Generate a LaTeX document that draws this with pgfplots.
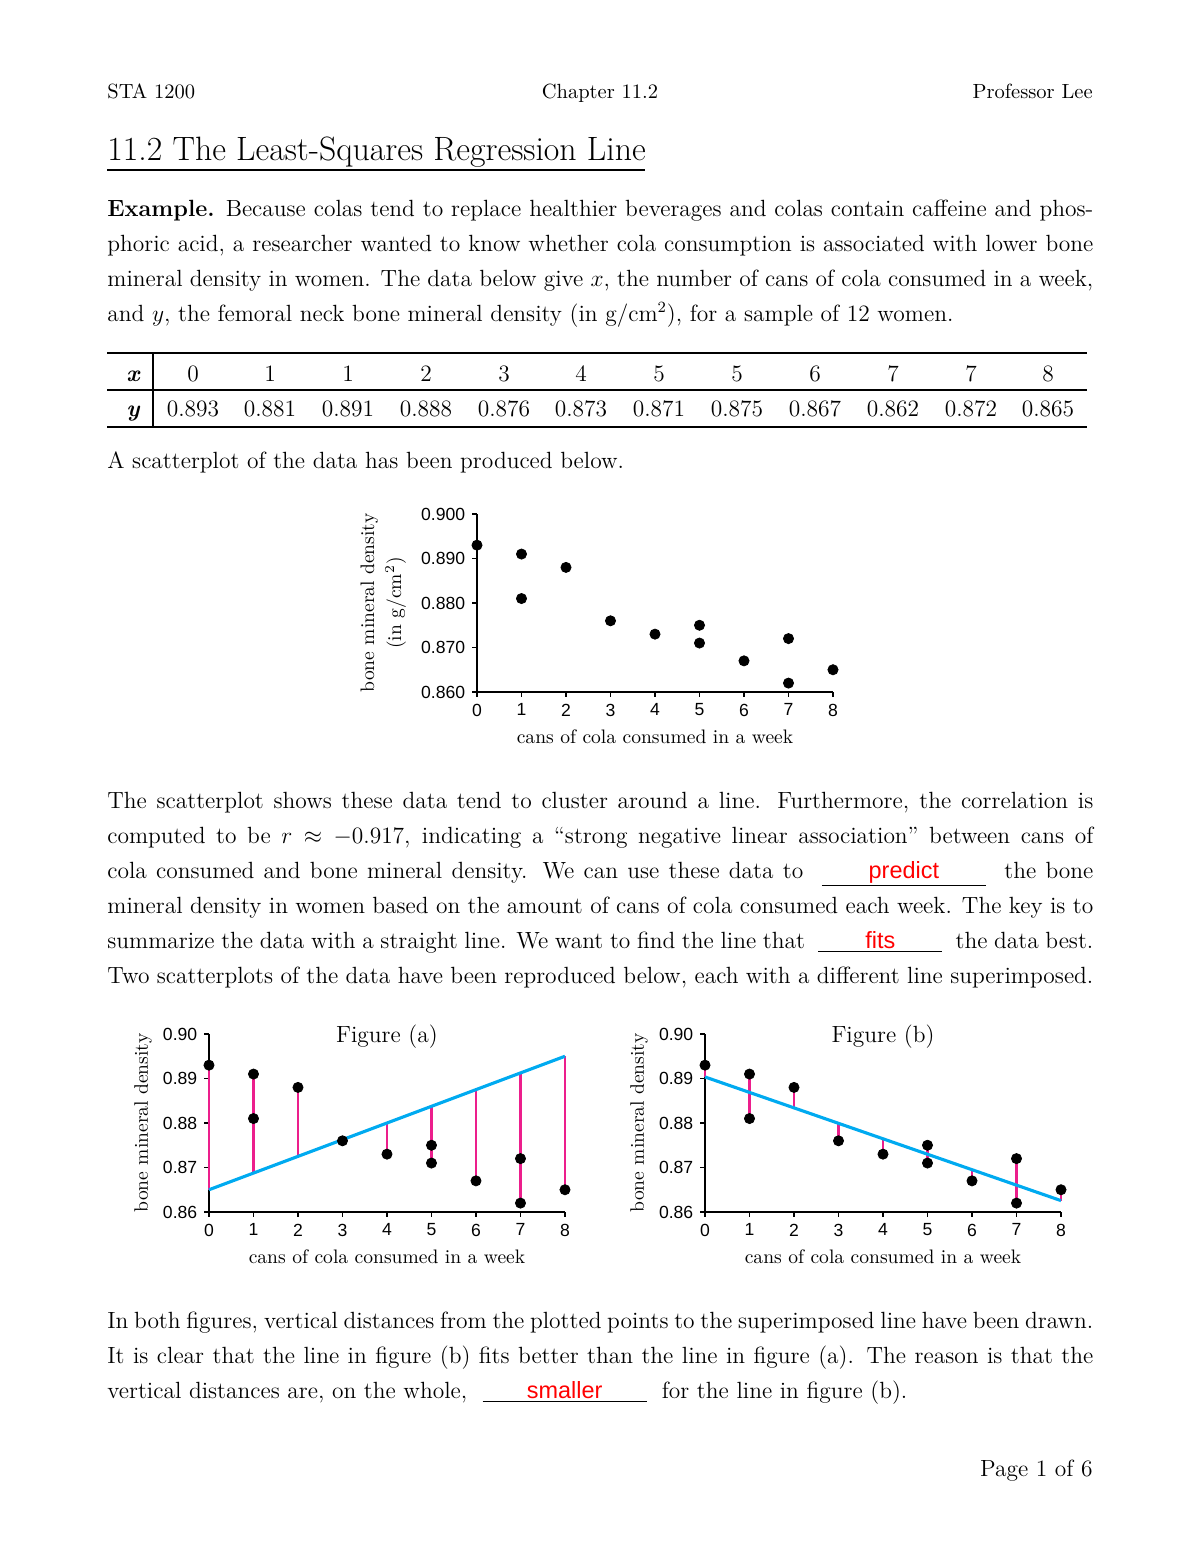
\documentclass[border=0pt]{standalone}
\usepackage{pgfplots}
\usepackage{pgfplotstable}
\pgfplotsset{compat=1.18}
\usepackage{fontspec}
\newfontfamily\sansfont{Liberation Sans}
\definecolor{resid}{RGB}{236,30,140}
\definecolor{fitline}{RGB}{0,170,240}

\pgfplotstableread{
x y
0 0.893
1 0.881
1 0.891
2 0.888
3 0.876
4 0.873
5 0.871
5 0.875
6 0.867
7 0.862
7 0.872
8 0.865
}\cola

\pgfplotsset{colaaxis/.style={
  scale only axis, width=182.23pt, height=91.11pt,
  anchor=south west,
  axis lines=left, axis line style={-, line width=1.3pt},
  xmin=0, xmax=8, ymin=0.86, ymax=0.90,
  xtick={0,...,8}, ytick={0.86,0.87,0.88,0.89,0.90},
  tick align=outside, major tick length=2.5pt,
  tick style={line width=0.9pt, black},
  tick label style={font=\sansfont\fontsize{9}{9}\selectfont},
  /pgf/number format/assume math mode=true,
  clip=false,
  xlabel={cans of cola consumed in a week},
  xlabel style={font=\fontsize{10}{12}\selectfont, at={(axis description cs:0.5,-0.253)}, anchor=center},
  ylabel style={font=\fontsize{10}{13.8}\selectfont, align=center, anchor=center},
}}

\newcommand\blank[2]{\underline{\makebox[#1]{\textcolor{red}{\sansfont #2}}}}

\begin{document}
\begin{tikzpicture}
\path[use as bounding box] (0,0) rectangle (614.25pt,-794.96pt);

\begin{scope}[x=0.51188pt, y=-0.51188pt]
% header
\node[anchor=base west, inner sep=0, font=\fontsize{10.5}{12}\selectfont] at (107,98) {STA 1200};
\node[anchor=base, inner sep=0, font=\fontsize{10.5}{12}\selectfont] at (600,98) {Chapter 11.2};
\node[anchor=base east, inner sep=0, font=\fontsize{10.5}{12}\selectfont] at (1093,98) {Professor Lee};
% title
\node[anchor=base west, inner sep=0, font=\fontsize{17.28}{20}\selectfont] at (107,160) {11.2 The Least-Squares Regression Line};
\draw[line width=0.8pt] (107,170) -- (645,170);

\begin{scope}[every node/.style={anchor=base west, inner sep=0, font=\fontsize{12}{17.9}\selectfont}]
\node at (107,216) {\makebox[504.7pt][s]{\textbf{Example.} Because colas tend to replace healthier beverages and colas contain caffeine and phos-}};
\node at (107,251) {\makebox[504.7pt][s]{phoric acid, a researcher wanted to know whether cola consumption is associated with lower bone}};
\node at (107,286) {\makebox[504.7pt][s]{mineral density in women. The data below give $x$, the number of cans of cola consumed in a week,}};
\node at (107,321) {and $y$, the femoral neck bone mineral density (in g/cm$^2$), for a sample of 12 women.};

\node at (107,468) {A scatterplot of the data has been produced below.};

\node at (107,808) {\makebox[504.7pt][s]{The scatterplot shows these data tend to cluster around a line. Furthermore, the correlation is}};
\node at (107,843) {\makebox[504.7pt][s]{computed to be $r \approx -0.917$, indicating a ``strong negative linear association'' between cans of}};
\node at (107,878) {\makebox[504.7pt][s]{cola consumed and bone mineral density. We can use these data to \ \blank{84pt}{predict} \ the bone}};
\node at (107,913) {\makebox[504.7pt][s]{mineral density in women based on the amount of cans of cola consumed each week. The key is to}};
\node at (107,948) {\makebox[504.7pt][s]{summarize the data with a straight line. We want to find the line that \ \blank{63.5pt}{fits} \ the data best.}};
\node at (107,983) {\makebox[504.7pt][s]{Two scatterplots of the data have been reproduced below, each with a different line superimposed.}};

\node at (107,1328) {\makebox[504.7pt][s]{In both figures, vertical distances from the plotted points to the superimposed line have been drawn.}};
\node at (107,1363) {\makebox[504.7pt][s]{It is clear that the line in figure (b) fits better than the line in figure (a). The reason is that the}};
\node at (107,1398) {vertical distances are, on the whole, \ \blank{84pt}{smaller} \ for the line in figure (b).};

\node[anchor=base east] at (1093,1476) {Page 1 of 6};
\end{scope}

% table
\draw[line width=0.9pt] (107,353) -- (1087,353);
\draw[line width=0.6pt] (107,390) -- (1087,390);
\draw[line width=0.9pt] (107,427) -- (1087,427);
\draw[line width=0.6pt] (153,353) -- (153,427);
\begin{scope}[every node/.style={anchor=base, inner sep=0, font=\fontsize{12}{14}\selectfont}]
\node at (133,381) {\bfseries\itshape x};
\node at (133,416) {\bfseries\itshape y};
\foreach \cx/\vx/\vy in {193/0/0.893, 270/1/0.881, 348/1/0.891, 426/2/0.888, 504/3/0.876, 581/4/0.873, 659/5/0.871, 737/5/0.875, 815/6/0.867, 893/7/0.862, 971/7/0.872, 1048/8/0.865}{
  \node at (\cx,381) {\vx};
  \node at (\cx,416) {\vy};
}
\end{scope}
\end{scope}

% scatterplot 1
\begin{axis}[colaaxis, at={(244.17pt,-354.22pt)},
  yticklabel style={/pgf/number format/.cd, fixed, fixed zerofill, precision=3},
  ylabel={bone mineral density\\(in g/cm$^2$)},
  ylabel style={at={(axis description cs:-0.263,0.5)}}]
\addplot[only marks, mark=*, mark size=2.6pt, black] table[x=x,y=y] {\cola};
\end{axis}

% figure (a)
\begin{axis}[colaaxis, at={(106.98pt,-620.40pt)},
  yticklabel style={/pgf/number format/.cd, fixed, fixed zerofill, precision=2},
  ylabel={bone mineral density},
  ylabel style={at={(axis description cs:-0.185,0.5)}},
  title={Figure (a)}, title style={at={(axis description cs:0.5,0.921)}, anchor=center, font=\fontsize{12}{14}\selectfont}]
\addplot[resid, line width=1.25pt, unbounded coords=jump] coordinates {
(0,0.893)(0,0.865)(0,nan)
(1,0.891)(1,0.86875)(1,nan)
(2,0.888)(2,0.8725)(2,nan)
(3,0.876)(3,0.87625)(3,nan)
(4,0.873)(4,0.880)(4,nan)
(5,0.871)(5,0.88375)(5,nan)
(6,0.867)(6,0.8875)(6,nan)
(7,0.862)(7,0.89125)(7,nan)
(8,0.865)(8,0.895)};
\addplot[fitline, line width=1.6pt] coordinates {(0,0.865)(8,0.895)};
\addplot[only marks, mark=*, mark size=2.6pt, black] table[x=x,y=y] {\cola};
\end{axis}

% figure (b)
\begin{axis}[colaaxis, at={(360.88pt,-620.40pt)},
  yticklabel style={/pgf/number format/.cd, fixed, fixed zerofill, precision=2},
  ylabel={bone mineral density},
  ylabel style={at={(axis description cs:-0.185,0.5)}},
  title={Figure (b)}, title style={at={(axis description cs:0.5,0.921)}, anchor=center, font=\fontsize{12}{14}\selectfont}]
\addplot[resid, line width=1.25pt, unbounded coords=jump] coordinates {
(0,0.893)(0,0.89035)(0,nan)
(1,0.891)(1,0.881)(1,nan)
(2,0.888)(2,0.88340)(2,nan)
(3,0.876)(3,0.87993)(3,nan)
(4,0.873)(4,0.87645)(4,nan)
(5,0.875)(5,0.871)(5,nan)
(6,0.867)(6,0.86951)(6,nan)
(7,0.872)(7,0.862)(7,nan)
(8,0.865)(8,0.86256)};
\addplot[fitline, line width=1.6pt] coordinates {(0,0.89035)(8,0.86256)};
\addplot[only marks, mark=*, mark size=2.6pt, black] table[x=x,y=y] {\cola};
\end{axis}
\end{tikzpicture}
\end{document}
